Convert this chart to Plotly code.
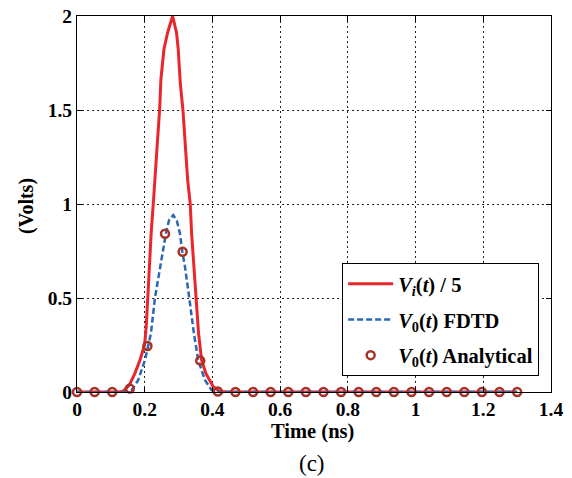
import plotly.graph_objects as go

# Vi(t)/5
t_vi = [0.0, 0.05, 0.10, 0.125, 0.137, 0.1545, 0.171, 0.186, 0.1997, 0.2045, 0.209, 0.2135,
        0.219, 0.226, 0.2332, 0.238, 0.244, 0.2479, 0.2568, 0.2676, 0.2824, 0.294, 0.299,
        0.305, 0.3129, 0.3208, 0.3267, 0.3345, 0.3385, 0.3453, 0.3512, 0.359, 0.368, 0.3807,
        0.4024, 0.422, 0.45, 0.5, 0.6, 0.7, 0.8, 0.9, 1.0, 1.1, 1.2, 1.3]
v_vi = [0.0, 0.0, 0.0, 0.0, 0.005, 0.037, 0.099, 0.17, 0.25, 0.35, 0.5, 0.667,
        0.844, 1.02, 1.184, 1.344, 1.5, 1.664, 1.823, 1.911, 2.0, 1.911, 1.823,
        1.645, 1.5, 1.291, 1.131, 1.0, 0.844, 0.667, 0.5, 0.312, 0.17, 0.099,
        0.028, 0.003, 0.0, 0.0, 0.0, 0.0, 0.0, 0.0, 0.0, 0.0, 0.0, 0.0]

# V0(t) FDTD
t_fdtd = [0.0, 0.05, 0.10, 0.137, 0.161, 0.181, 0.2007, 0.2184, 0.2302, 0.245, 0.2627, 0.272,
          0.2843, 0.295, 0.304, 0.311, 0.3188, 0.3316, 0.3453, 0.358, 0.3778, 0.3975, 0.416,
          0.45, 0.5, 0.6, 0.7, 0.8, 0.9, 1.0, 1.1, 1.2, 1.3]
v_fdtd = [0.0, 0.0, 0.0, 0.0, 0.01, 0.064, 0.17, 0.312, 0.5, 0.667, 0.844, 0.915,
          0.941, 0.91, 0.844, 0.746, 0.667, 0.5, 0.312, 0.17, 0.064, 0.01, 0.0,
          0.0, 0.0, 0.0, 0.0, 0.0, 0.0, 0.0, 0.0, 0.0, 0.0]

# V0(t) Analytical
t_an = [0.0, 0.052, 0.104, 0.156, 0.208, 0.26, 0.312, 0.364, 0.416, 0.468, 0.52, 0.572,
        0.624, 0.676, 0.728, 0.78, 0.832, 0.884, 0.936, 0.988, 1.04, 1.092, 1.144,
        1.196, 1.248, 1.3]
v_an = [0.0, 0.0, 0.0, 0.018, 0.245, 0.842, 0.746, 0.167, 0.003, 0.0, 0.0, 0.0,
        0.0, 0.0, 0.0, 0.0, 0.0, 0.0, 0.0, 0.0, 0.0, 0.0, 0.0,
        0.0, 0.0, 0.0]

x_ticks = [0, 0.2, 0.4, 0.6, 0.8, 1.0, 1.2, 1.4]
x_tick_text = ["0", "0.2", "0.4", "0.6", "0.8", "1", "1.2", "1.4"]
y_ticks = [0, 0.5, 1.0, 1.5, 2.0]
y_tick_text = ["0", "0.5", "1", "1.5", "2"]

FONT = "Liberation Serif"

fig = go.Figure()
fig.add_trace(go.Scatter(
    x=t_vi, y=v_vi, mode="lines", cliponaxis=False, legendgroup="a",
    line=dict(color="#e8262b", width=3),
    name="<b><i>V</i><sub><i>i</i></sub>(<i>t</i>) / 5</b>"))
fig.add_trace(go.Scatter(
    x=t_fdtd, y=v_fdtd, mode="lines", cliponaxis=False, legendgroup="b",
    line=dict(color="#2a67b4", width=2.5, dash="6px,3px"),
    name="<b><i>V</i><sub>0</sub>(<i>t</i>) FDTD</b>"))
fig.add_trace(go.Scatter(
    x=t_an, y=v_an, mode="markers", cliponaxis=False, legendgroup="c",
    marker=dict(symbol="circle-open", size=8, color="#a83228", line=dict(width=2.5, color="#a83228")),
    name="<b><i>V</i><sub>0</sub>(<i>t</i>) Analytical</b>"))

axis_common = dict(
    showline=True, linecolor="black", linewidth=1, mirror="ticks",
    ticks="inside", ticklen=5, tickcolor="black",
    showgrid=True, gridcolor="#222222", gridwidth=1, griddash="2px,3px",
    zeroline=False, automargin=False, ticklabeloverflow="allow",
    tickfont=dict(family=FONT, size=19.5, color="black", weight="bold"),
)

fig.update_xaxes(range=[0, 1.4], tickvals=x_ticks, ticktext=x_tick_text, **axis_common)
fig.update_yaxes(range=[0, 2], tickvals=y_ticks, ticktext=y_tick_text, **axis_common)

# page body has an 8px margin, so the figure is 8px smaller and margins shifted
fig.update_layout(
    width=564, height=470,
    margin=dict(l=69, r=21, t=8, b=86),
    paper_bgcolor="white", plot_bgcolor="white",
    font=dict(family=FONT, color="black"),
    legend=dict(
        x=0.975, y=0.343, xanchor="right", yanchor="top",
        bgcolor="white", bordercolor="black", borderwidth=1,
        font=dict(family=FONT, size=20.5, color="black"),
        itemwidth=45, traceorder="grouped", tracegroupgap=6,
    ),
    annotations=[
        dict(text="<b>Time (ns)</b>", x=0.496, y=-0.106, xref="paper", yref="paper",
             xanchor="center", yanchor="middle", showarrow=False,
             font=dict(family=FONT, size=20.5, color="black")),
        dict(text="(c)", x=0.495, y=-0.19, xref="paper", yref="paper",
             xanchor="center", yanchor="middle", showarrow=False,
             font=dict(family=FONT, size=23, color="black")),
        dict(text="<b>(Volts)</b>", x=(27 - 77) / 474, y=0.495, xref="paper", yref="paper",
             xanchor="center", yanchor="middle", showarrow=False, textangle=-90,
             font=dict(family=FONT, size=20, color="black")),
    ],
)

fig.write_html("out.html")
